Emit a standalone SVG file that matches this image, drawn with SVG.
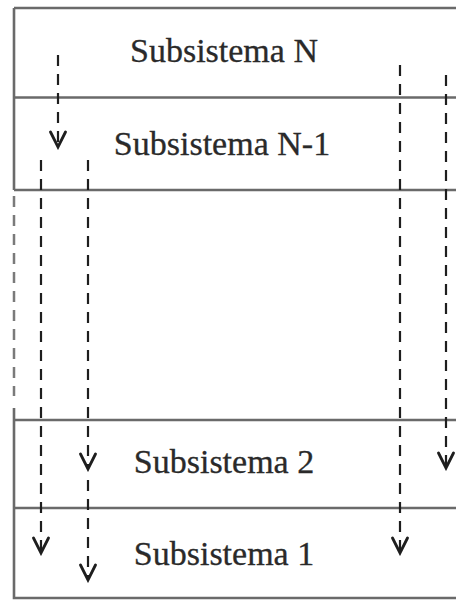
<svg xmlns="http://www.w3.org/2000/svg" width="456" height="600" viewBox="0 0 456 600">
  <style>
    .frame { stroke: #6a6a6a; stroke-width: 2.6; fill: none; }
    .frame-dash { stroke: #7a7a7a; stroke-width: 2.5; fill: none; stroke-dasharray: 11 8; }
    .flow { stroke: #1e1e1e; stroke-width: 2.2; fill: none; stroke-dasharray: 11 8; }
    .head { stroke: #1e1e1e; stroke-width: 2.8; fill: none; stroke-linecap: round; stroke-linejoin: miter; }
    .label { font-family: "Liberation Serif", "Times New Roman", serif; font-size: 34px; fill: #2a2a2a; text-anchor: middle; stroke: #2a2a2a; stroke-width: 0.3; }
  </style>
  <defs>
    <!-- open V head, drawn along +x so orient="auto" points it down the line -->
    <marker id="vhead" markerUnits="userSpaceOnUse" markerWidth="22" markerHeight="20" refX="19" refY="10" orient="auto" viewBox="0 0 22 20">
      <path class="head" d="M4,2.5 L19,10 L4,17.5"/>
    </marker>
  </defs>
  <rect width="456" height="600" fill="#ffffff"/>

  <!-- layer stack outline -->
  <g id="frame">
    <path class="frame" d="M14,8 H456 M14,8 V190 M14,408 V598 H456"/>
    <path class="frame-dash" d="M14,196 V396"/>
  </g>

  <g id="subsistema-n">
    <line class="frame" x1="14" y1="97.5" x2="456" y2="97.5"/>
    <text class="label" x="224" y="62">Subsistema N</text>
  </g>
  <g id="subsistema-n-1">
    <line class="frame" x1="14" y1="190" x2="456" y2="190"/>
    <text class="label" x="222" y="155">Subsistema N-1</text>
  </g>
  <g id="subsistema-2">
    <line class="frame" x1="14" y1="420" x2="456" y2="420"/>
    <text class="label" x="224" y="473">Subsistema 2</text>
  </g>
  <g id="subsistema-1">
    <line class="frame" x1="14" y1="508" x2="456" y2="508"/>
    <text class="label" x="224" y="565">Subsistema 1</text>
  </g>

  <!-- downward calls between layers -->
  <g id="connectors">
    <line class="flow" x1="58" y1="55" x2="58" y2="147" marker-end="url(#vhead)"/>
    <line class="flow" x1="41" y1="160" x2="41" y2="553" marker-end="url(#vhead)"/>
    <line class="flow" x1="88" y1="160" x2="88" y2="469" marker-end="url(#vhead)"/>
    <line class="flow" x1="88" y1="480" x2="88" y2="580" marker-end="url(#vhead)"/>
    <line class="flow" x1="400" y1="65" x2="400" y2="553" marker-end="url(#vhead)"/>
    <line class="flow" x1="446" y1="75" x2="446" y2="468" marker-end="url(#vhead)"/>
  </g>
</svg>
